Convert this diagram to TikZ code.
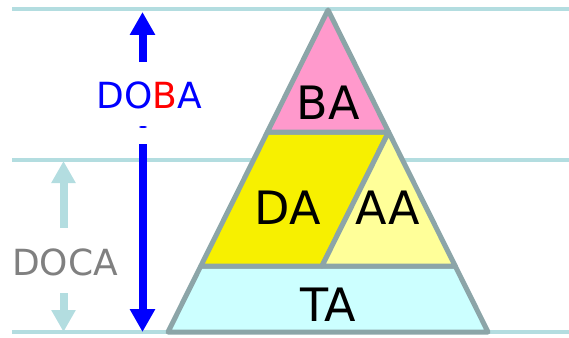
\documentclass[tikz,border=0pt]{standalone}
\usepackage{fontspec}
\setmainfont{DejaVu Sans}
\usetikzlibrary{arrows.meta}
\definecolor{guide}{HTML}{B3DDE0}
\definecolor{edgecol}{HTML}{8CA5A8}
\definecolor{pinkfill}{HTML}{FF99CC}
\definecolor{yellowfill}{HTML}{F7F000}
\definecolor{lightyellow}{HTML}{FFFF99}
\definecolor{cyanfill}{HTML}{CCFFFF}
\definecolor{textgray}{HTML}{808080}
\tikzset{
  guideline/.style={draw=guide, line width=4pt},
  region/.style={draw=edgecol, line width=5pt, line join=round},
  biglabel/.style={inner sep=0pt, font=\fontsize{46}{50}\selectfont},
  sidelabel/.style={inner sep=0pt, font=\fontsize{36}{40}\selectfont},
  bluearrow/.style={draw=blue, line width=8pt, -{Triangle[width=24pt,length=23pt]}},
  lightarrow/.style={draw=guide, line width=8pt, -{Triangle[width=23pt,length=22pt]}}
}
\begin{document}
\begin{tikzpicture}[x=1pt,y=-1pt]
\useasboundingbox (0,0) rectangle (569,337);
% guide lines
\draw[guideline] (12,9.5) -- (569,9.5);
\draw[guideline] (12,160) -- (569,160);
\draw[guideline] (12,332) -- (569,332);
% pyramid coordinates
\coordinate (apex) at (328,10);
\coordinate (bl) at (168,332);
\coordinate (br) at (488,332);
\coordinate (p1) at (267.4,132);
\coordinate (p2) at (388.6,132);
\coordinate (q1) at (200.8,266);
\coordinate (q2) at (455.2,266);
\coordinate (q3) at (322.0,266);
% regions
\filldraw[region, fill=cyanfill] (q1) -- (q2) -- (br) -- (bl) -- cycle;
\filldraw[region, fill=yellowfill] (p1) -- (p2) -- (q3) -- (q1) -- cycle;
\filldraw[region, fill=lightyellow] (p2) -- (q2) -- (q3) -- cycle;
\filldraw[region, fill=pinkfill] (apex) -- (p2) -- (p1) -- cycle;
% labels
\node[biglabel] (ba) at (328,103) {BA};
\node[biglabel] (da) at (288,208) {DA};
\node[biglabel] (aa) at (388,208) {AA};
\node[biglabel] (ta) at (328,304.5) {TA};
% DOBA
\node[sidelabel] (doba) at (149,95.5) {\textcolor{blue}{DO}\textcolor{red}{B}\textcolor{blue}{A}};
\coordinate (dobaup0) at (142.5,62);
\coordinate (dobaup1) at (142.5,12);
\coordinate (dobadn0) at (142.5,144);
\coordinate (dobadn1) at (142.5,332);
\draw[bluearrow] (dobaup0) -- (dobaup1);
\draw[bluearrow] (dobadn0) -- (dobadn1);
\fill[blue] (143,127) ellipse [x radius=4pt, y radius=1pt];
% DOCA
\node[sidelabel, text=textgray] (doca) at (65,262.5) {DOCA};
\coordinate (docaup0) at (63.5,228);
\coordinate (docaup1) at (63.5,161);
\coordinate (docadn0) at (63.5,293);
\coordinate (docadn1) at (63.5,332);
\draw[lightarrow] (docaup0) -- (docaup1);
\draw[lightarrow] (docadn0) -- (docadn1);
\end{tikzpicture}
\end{document}
